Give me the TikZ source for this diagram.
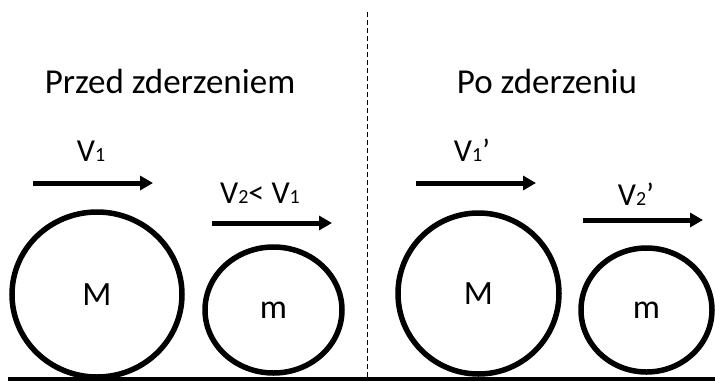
\documentclass[tikz,border=0pt]{standalone}
\usepackage{fontspec}
\setmainfont{Carlito}
\usetikzlibrary{arrows.meta,positioning,shapes.geometric}
\newcommand{\ind}[1]{\raisebox{-0.5pt}{\fontsize{20}{20}\selectfont #1}}

\begin{document}
\begin{tikzpicture}[x=1pt, y=-1pt, font=\fontsize{32}{38}\selectfont,
  ball/.style={draw, ellipse, line width=5.5pt, inner sep=0pt, font=\fontsize{34}{40}\selectfont},
  vec/.style={line width=5pt, -{Triangle[length=13pt,width=14pt]}},
  lbl/.style={inner sep=2pt},
  title/.style={anchor=base, font=\fontsize{35}{42}\selectfont}]
  \useasboundingbox (0,0) rectangle (715,381);

  % titles
  \node[title] (t1) at (170,93) {Przed zderzeniem};
  \node[title] (t2) at (547,93) {Po zderzeniu};

  % divider and ground
  \coordinate (d1) at (367,12);
  \coordinate (d2) at (367,378);
  \draw[dashed, line width=0.8pt, dash pattern=on 5pt off 3pt] (d1) -- (d2);
  \coordinate (g1) at (8,379);
  \coordinate (g2) at (715,379);
  \draw[line width=4pt] (g1) -- (g2);

  % balls
  \node[ball, minimum width=170pt, minimum height=165pt] (M1) at (97,294.5) {M};
  \node[ball, minimum width=137pt, minimum height=126pt] (m1) at (273.5,310) {m};
  \node[ball, minimum width=161pt, minimum height=161pt] (M2) at (478.5,293.5) {M};
  \node[ball, minimum width=131pt, minimum height=124pt] (m2) at (646.5,310) {m};

  % velocities
  \coordinate (v1a) at (33,183);  \coordinate (v1b) at (153,183);
  \coordinate (v2a) at (212,223); \coordinate (v2b) at (332,223);
  \coordinate (w1a) at (416,183); \coordinate (w1b) at (536,183);
  \coordinate (w2a) at (583,220); \coordinate (w2b) at (703,220);
  \draw[vec] (v1a) -- node[lbl, above=17pt, xshift=-2pt] {V\ind{1}} (v1b);
  \draw[vec] (v2a) -- node[lbl, above=15pt, xshift=-12pt] {V\ind{2}< V\ind{1}} (v2b);
  \draw[vec] (w1a) -- node[lbl, above=17pt, xshift=-4pt] {V\ind{1}’} (w1b);
  \draw[vec] (w2a) -- node[lbl, above=10pt, xshift=-7pt] {V\ind{2}’} (w2b);
\end{tikzpicture}
\end{document}
